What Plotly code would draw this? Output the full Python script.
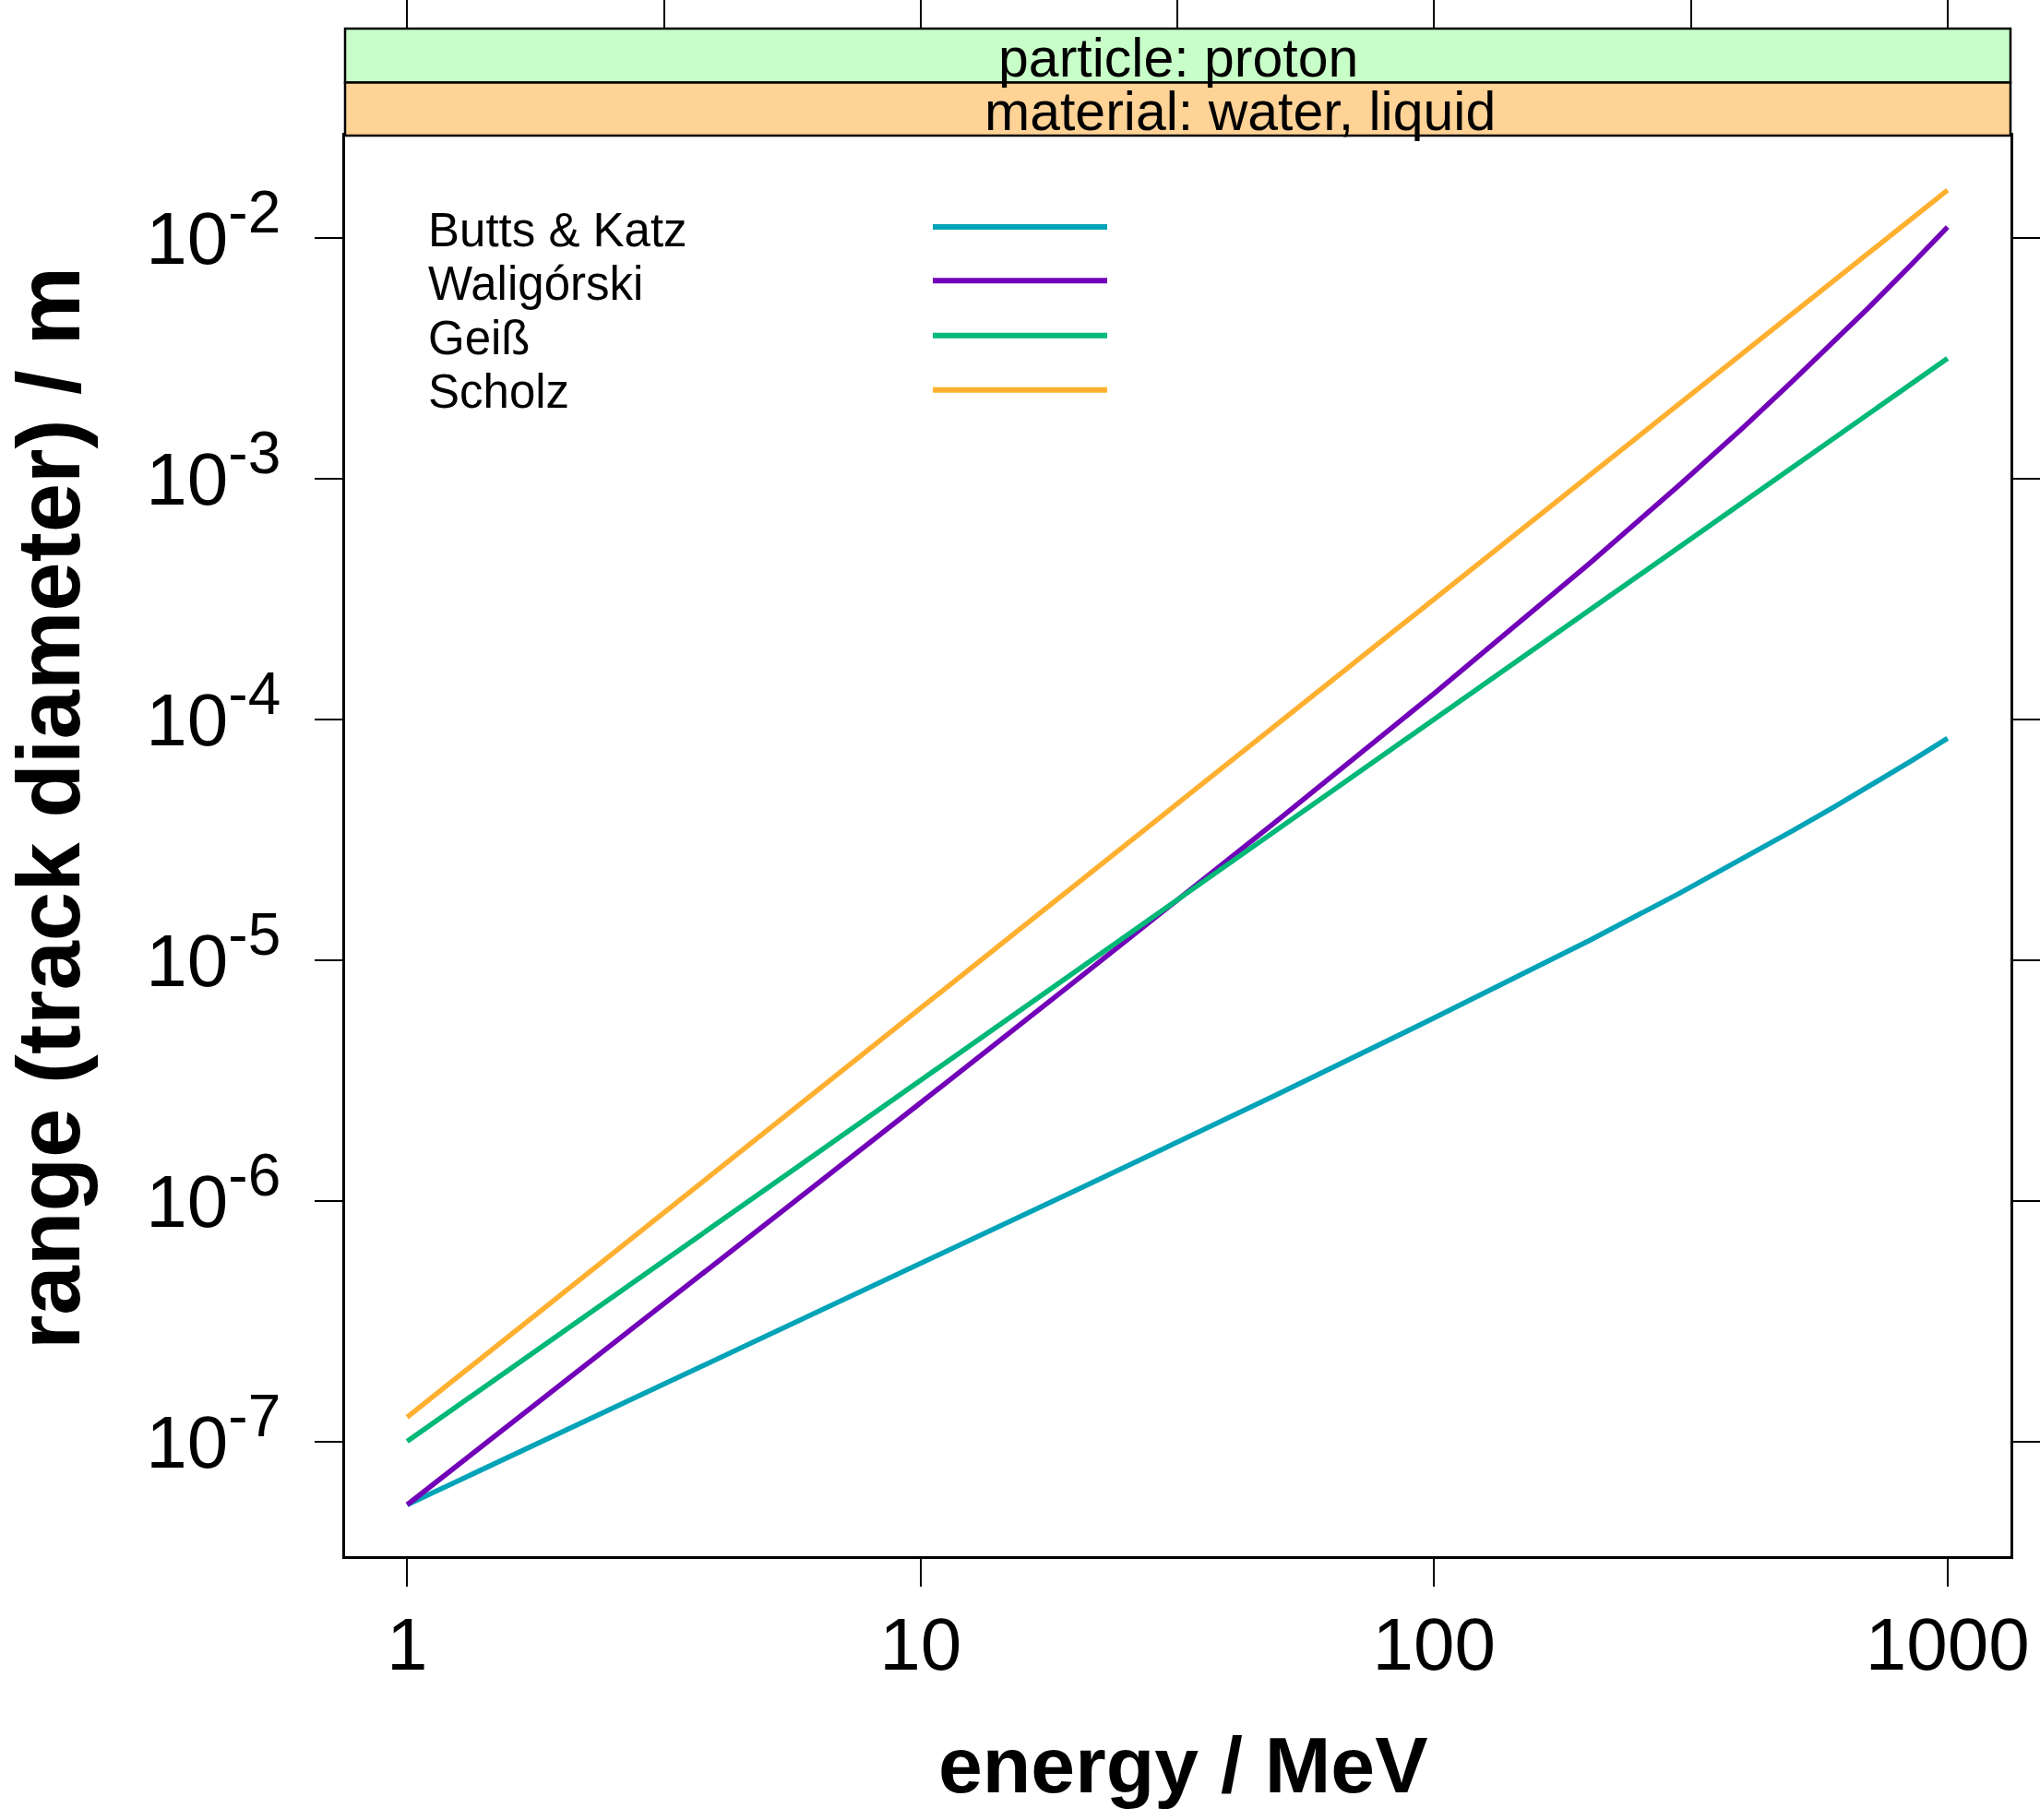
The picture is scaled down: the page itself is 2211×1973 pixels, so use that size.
import plotly.graph_objects as go

# ---------------- data ----------------
energy = [1, 2, 5, 10, 20, 30, 50, 100, 150, 200, 300, 400, 500, 600, 700,
          850, 1000]  # MeV
butts_katz = [5.45e-8, 1.09e-7, 2.73e-7, 5.47e-7, 1.10e-6, 1.66e-6, 2.79e-6,
              5.74e-6, 8.81e-6, 1.20e-5, 1.89e-5, 2.64e-5, 3.45e-5, 4.31e-5,
              5.23e-5, 6.72e-5, 8.34e-5]
waligorski = [5.45e-8, 1.73e-7, 7.99e-7, 2.55e-6, 8.17e-6, 1.62e-5, 3.86e-5,
              1.28e-4, 2.62e-4, 4.41e-4, 9.38e-4, 1.63e-3, 2.55e-3, 3.70e-3,
              5.10e-3, 7.75e-3, 1.11e-2]
geiss = [1.0e-7, 2.83e-7, 1.12e-6, 3.16e-6, 8.94e-6, 1.64e-5, 3.54e-5,
         1.0e-4, 1.84e-4, 2.83e-4, 5.20e-4, 8.0e-4, 1.12e-3, 1.47e-3,
         1.85e-3, 2.48e-3, 3.16e-3]
scholz = [1.26e-7, 4.09e-7, 1.94e-6, 6.31e-6, 2.05e-5, 4.08e-5, 9.73e-5,
          3.16e-4, 6.30e-4, 1.03e-3, 2.05e-3, 3.34e-3, 4.88e-3, 6.65e-3,
          8.64e-3, 1.20e-2, 1.58e-2]

series_names = ["Butts & Katz", "Waligórski", "Geiß", "Scholz"]
series_values = [butts_katz, waligorski, geiss, scholz]
series_colors = ["#00A3B7", "#7200B8", "#00B877", "#FFB030"]

x_tick_vals = [1, 10, 100, 1000]
x_tick_text = ["1", "10", "100", "1000"]
x_top_tick_vals = [1, 3.1623, 10, 31.623, 100, 316.23, 1000]
y_tick_vals = [1e-7, 1e-6, 1e-5, 1e-4, 1e-3, 1e-2]
y_exponents = ["-7", "-6", "-5", "-4", "-3", "-2"]
y_tick_text = ["10<sup><span style='font-size:64px'>%s</span></sup>" % e
               for e in y_exponents]

strip_top_text = "particle: proton"
strip_bottom_text = "material: water, liquid"
x_title = "energy / MeV"
y_title = "range (track diameter) / m"

# ---------------- layout geometry ----------------
W, H = 2211, 1973
L, R, T, B = 374, 2179, 31, 1687          # panel (incl. strips) in pixels
PLOT_TOP = 147
STRIP_MID = 89.5
FONT = "Liberation Sans, Arial, sans-serif"

def py(Y):
    return (B - Y) / (B - T)

def px(X):
    return (X - L) / (R - L)

fig = go.Figure()
for name, vals, col in zip(series_names, series_values, series_colors):
    fig.add_trace(go.Scatter(x=energy, y=vals, mode="lines", name=name,
                             line=dict(color=col, width=5.5),
                             showlegend=False))
# invisible trace to activate the top tick axis
fig.add_trace(go.Scatter(x=energy, y=scholz, xaxis="x2", yaxis="y",
                         mode="lines", opacity=0, showlegend=False,
                         hoverinfo="skip"))

xr = [-0.1209, 3.1226]
yr = [-7.4772, -1.5746]

fig.update_layout(
    width=W, height=H,
    margin=dict(l=L, r=W - R, t=T, b=H - B, pad=0, autoexpand=False),
    paper_bgcolor="white", plot_bgcolor="white",
    font=dict(family=FONT, color="black"),
    xaxis=dict(type="log", range=xr, tickvals=x_tick_vals, ticktext=x_tick_text,
               ticks="outside", ticklen=30, tickwidth=2, tickcolor="black",
               showline=True, linewidth=2.5, linecolor="black", mirror=True,
               showgrid=False, zeroline=False, automargin=False,
               tickfont=dict(size=80, family=FONT), ticklabelstandoff=-6),
    xaxis2=dict(type="log", range=xr, overlaying="x", anchor="free", position=1,
                side="top", tickvals=x_top_tick_vals, showticklabels=False,
                ticks="outside", ticklen=31, tickwidth=2, tickcolor="black",
                showline=False, showgrid=False, zeroline=False,
                automargin=False),
    yaxis=dict(type="log", range=yr, domain=[0, py(PLOT_TOP)],
               tickvals=y_tick_vals, ticktext=y_tick_text,
               ticks="outside", ticklen=30, tickwidth=2, tickcolor="black",
               showline=True, linewidth=2.5, linecolor="black", mirror="ticks",
               showgrid=False, zeroline=False, automargin=False,
               tickfont=dict(size=80, family=FONT), ticklabelstandoff=21),
)

shapes = [
    dict(type="rect", xref="paper", yref="paper", x0=0, x1=1,
         y0=py(STRIP_MID), y1=py(T), fillcolor="#C8FFC8",
         line=dict(color="black", width=2.5), layer="above"),
    dict(type="rect", xref="paper", yref="paper", x0=0, x1=1,
         y0=py(PLOT_TOP), y1=py(STRIP_MID), fillcolor="#FFD296",
         line=dict(color="black", width=2.5), layer="above"),
]
# legend keys (line samples to the right of the labels)
key_y = [246, 304.3, 363.7, 422.7]
label_y = [249, 307.5, 366, 425]
annotations = []
for name, col, ky, ly in zip(series_names, series_colors, key_y, label_y):
    shapes.append(dict(type="line", xref="paper", yref="paper",
                       x0=px(1011), x1=px(1200), y0=py(ky), y1=py(ky),
                       line=dict(color=col, width=6)))
    annotations.append(dict(text=name, xref="paper", yref="paper",
                            x=px(462), y=py(ly), xanchor="left", yanchor="middle",
                            showarrow=False, font=dict(size=51, family=FONT)))

annotations += [
    dict(text=strip_top_text, xref="paper", yref="paper", x=px(1277), y=py(62.6),
         xanchor="center", yanchor="middle", showarrow=False,
         font=dict(size=59, family=FONT)),
    dict(text=strip_bottom_text, xref="paper", yref="paper", x=px(1343.5),
         y=py(121.3), xanchor="center", yanchor="middle", showarrow=False,
         font=dict(size=59, family=FONT)),
    dict(text="<b>" + x_title + "</b>", xref="paper", yref="paper",
         x=px(1282), y=py(1913), xanchor="center", yanchor="middle",
         showarrow=False, font=dict(size=86, family=FONT)),
    dict(text="<b>" + y_title + "</b>", xref="paper", yref="paper",
         x=px(53), y=py(876), xanchor="center", yanchor="middle",
         textangle=-90, showarrow=False, font=dict(size=96, family=FONT)),
]
fig.update_layout(shapes=shapes, annotations=annotations)

fig.write_html(
    "out.html",
    config={"displayModeBar": False},
    post_script=(
        "document.documentElement.style.margin='0px';"
        "document.body.style.margin='0px';"
        "document.body.style.overflow='hidden';"
        "var gd=document.getElementById('{plot_id}');"
        "gd.style.position='absolute';gd.style.top='0px';gd.style.left='0px';"
    ),
)
